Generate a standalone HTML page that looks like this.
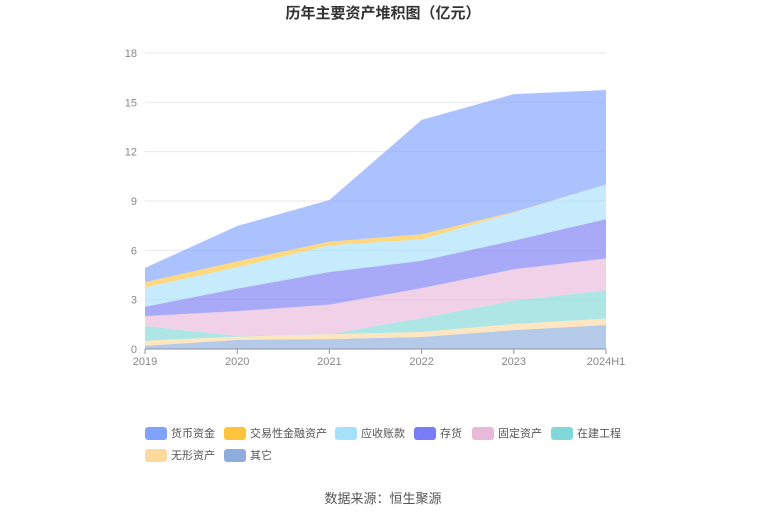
<!DOCTYPE html>
<html><head><meta charset="utf-8"><style>
body{margin:0;background:#fff;font-family:"Liberation Sans","Noto Sans CJK SC",sans-serif;}
svg text{font-family:"Liberation Sans","Noto Sans CJK SC",sans-serif;}
</style></head><body>
<svg id="chart" width="765" height="517" viewBox="0 0 765 517" xmlns="http://www.w3.org/2000/svg">
<text x="383" y="18" text-anchor="middle" font-size="15" font-weight="bold" fill="#333">历年主要资产堆积图（亿元）</text>
<g id="grid"></g><g id="areas"></g><g id="axes"></g><g id="legend"></g>
<text x="383" y="503" text-anchor="middle" font-size="13" fill="#555">数据来源：恒生聚源</text>
</svg>
<script>
const categories=["2019","2020","2021","2022","2023","2024H1"];
const seriesNames=["其它","无形资产","在建工程","固定资产","存货","应收账款","交易性金融资产","货币资金"];
const other=[0.2,0.55,0.6,0.73,1.15,1.45];
const intangible=[0.3,0.2,0.3,0.3,0.37,0.4];
const cip=[0.9,0.05,0,0.85,1.42,1.72];
const fixedAssets=[0.6,1.5,1.8,1.82,1.91,1.93];
const inventory=[0.57,1.37,1.98,1.67,1.74,2.4];
const receivables=[1.18,1.3,1.62,1.3,1.7,2.1];
const trading=[0.32,0.36,0.23,0.31,0.04,0];
const cash=[0.86,2.15,2.53,6.95,7.17,5.75];
const yTicks=[0,3,6,9,12,15,18];
const seriesData=[other,intangible,cip,fixedAssets,inventory,receivables,trading,cash];
const colors=["#8eacdc","#fdd9a0","#82d8d8","#e9b9da","#7a7cf5","#a6e0fb","#fdc43c","#80a2fd"];
const ns="http://www.w3.org/2000/svg";
const X0=145,X1=606,Y0=349,Y1=53;
function xs(i){return X0+(X1-X0)*i/(categories.length-1);}
function ys(v){return Y0-(Y0-Y1)*v/18;}
function mk(t,a,p){const e=document.createElementNS(ns,t);for(const k in a)e.setAttribute(k,a[k]);(p||document.getElementById('chart')).appendChild(e);return e;}
const grid=document.getElementById('grid'),axes=document.getElementById('axes'),areas=document.getElementById('areas'),legend=document.getElementById('legend');
yTicks.forEach(t=>{
 if(t>0){const l=mk('line',{x1:X0,x2:X1,y1:ys(t),y2:ys(t),stroke:'#e8e8ee'},grid);
 
 }
 const tx=mk('text',{x:137,y:ys(t)+4,'text-anchor':'end','font-size':11,fill:'#888'},axes);tx.textContent=t;
 
 
});
let base=categories.map(()=>0);
seriesData.forEach((s,si)=>{
 const top=base.map((b,i)=>b+s[i]);
 let d='M'+top.map((v,i)=>xs(i)+','+ys(v)).join('L');
 for(let i=categories.length-1;i>=0;i--)d+='L'+xs(i)+','+ys(base[i]);
 const p=mk('path',{d:d+'Z',fill:colors[si],'fill-opacity':0.65},areas);
 
 
 base=top;
});
const ax=mk('line',{x1:X0,x2:X1,y1:Y0,y2:Y0,stroke:'#8a93a6'},axes);


categories.forEach((c,i)=>{
 mk('line',{x1:xs(i),x2:xs(i),y1:Y0,y2:Y0+5,stroke:'#8a93a6'},axes);
 const t=mk('text',{x:xs(i),y:Y0+16,'text-anchor':'middle','font-size':11,fill:'#888'},axes);t.textContent=c;
 
 
});
const legendOrder=[7,6,5,4,3,2,1,0];
const lpos=[[145,433],[224,433],[335,433],[414,433],[472,433],[551,433],[145,455],[224,455]];
legendOrder.forEach((si,k)=>{
 const g=mk('g',{},legend);
 
 
 const [lx,ly]=lpos[k];
 mk('rect',{x:lx,y:ly-6,width:22,height:13,rx:3,fill:colors[si]},g);
 const t=mk('text',{x:lx+26,y:ly+4,'font-size':11,fill:'#555'},g);t.textContent=seriesNames[si];
});
</script>
</body></html>
